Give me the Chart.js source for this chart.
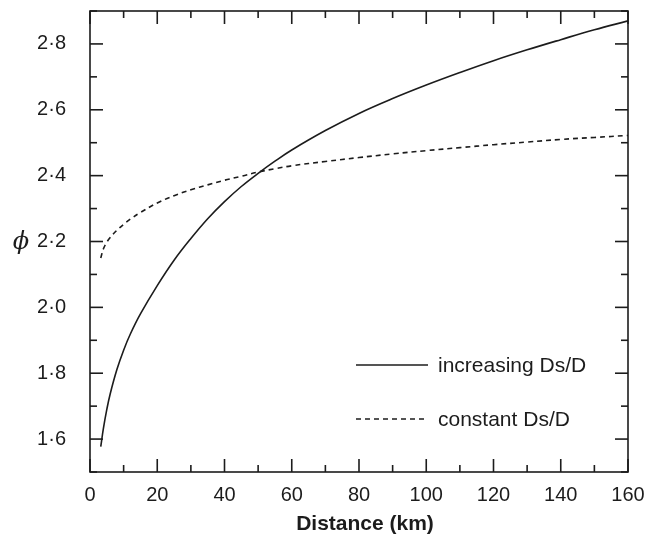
<!DOCTYPE html>
<html>
<head>
<meta charset="utf-8">
<script src="https://cdn.jsdelivr.net/npm/chart.js@4.4.0/dist/chart.umd.min.js"></script>
<style>
  html, body { margin: 0; padding: 0; background: #fff; }
  #wrap { width: 647px; height: 535px; position: relative; }
</style>
</head>
<body>
<div id="wrap"><canvas id="chart"></canvas></div>
<script>
// distance along profile (km) and phi for the two Ds/D cases
const distance = [3.2, 4, 5, 6, 8, 10, 12, 15, 20, 25, 30, 35, 40, 45, 50, 55, 60, 70, 80, 90, 100, 110, 120, 130, 140, 150, 160];
const phiIncreasing = [1.577, 1.633, 1.690, 1.737, 1.811, 1.870, 1.919, 1.980, 2.066, 2.143, 2.209, 2.269, 2.321, 2.367, 2.407, 2.444, 2.478, 2.537, 2.589, 2.634, 2.675, 2.713, 2.749, 2.782, 2.813, 2.843, 2.870];
const phiConstant = [2.150, 2.178, 2.198, 2.212, 2.234, 2.252, 2.268, 2.288, 2.317, 2.339, 2.357, 2.372, 2.386, 2.398, 2.411, 2.421, 2.430, 2.443, 2.455, 2.466, 2.476, 2.485, 2.494, 2.502, 2.510, 2.516, 2.522];

const xTicks = [0, 20, 40, 60, 80, 100, 120, 140, 160];
const yTicks = [1.6, 1.8, 2.0, 2.2, 2.4, 2.6, 2.8];
const seriesLabels = ['increasing Ds/D', 'constant Ds/D'];

const INK = '#1c1c1c';
const FONT = '"Liberation Sans", Arial, Helvetica, sans-serif';

const toPoints = ys => distance.map((d, i) => ({ x: d, y: ys[i] }));

// box frame with inward major/minor ticks on all four sides, legend and axis text
const frameTicks = {
  id: 'frameTicks',
  afterDatasetsDraw(chart) {
    const { ctx, chartArea: a, scales: { x, y } } = chart;
    const seg = (x1, y1, x2, y2) => { ctx.beginPath(); ctx.moveTo(x1, y1); ctx.lineTo(x2, y2); ctx.stroke(); };
    ctx.save();
    ctx.strokeStyle = INK;
    ctx.lineWidth = 1.6;
    ctx.strokeRect(a.left, a.top, a.right - a.left, a.bottom - a.top);

    for (let v = 0; v <= 160; v += 10) {
      const px = x.getPixelForValue(v);
      const len = v % 20 === 0 ? 13 : 7;
      seg(px, a.bottom, px, a.bottom - len);
      seg(px, a.top, px, a.top + len);
    }
    for (let i = 15; i <= 29; i++) {
      const py = y.getPixelForValue(i / 10);
      const len = i % 2 === 0 ? 13 : 7;
      seg(a.left, py, a.left + len, py);
      seg(a.right, py, a.right - len, py);
    }

    // legend
    const ds = chart.data.datasets;
    const rows = [a.top + 354, a.top + 408];
    ctx.fillStyle = INK;
    ctx.font = '21px ' + FONT;
    ctx.textBaseline = 'middle';
    ds.forEach((d, i) => {
      ctx.lineWidth = d.borderWidth;
      ctx.setLineDash(d.borderDash || []);
      seg(a.left + 266, rows[i], a.left + 338, rows[i]);
      ctx.setLineDash([]);
      ctx.fillText(d.label, a.left + 348, rows[i] + 1);
    });

    // axis titles
    ctx.textAlign = 'center';
    ctx.font = 'bold 21px ' + FONT;
    ctx.fillText('Distance (km)', (a.left + a.right) / 2 + 6, 524);
    ctx.font = 'italic 24px "DejaVu Serif", serif';
    ctx.fillText('\u03D5', 21, (a.top + a.bottom) / 2 + 1);
    ctx.restore();
  }
};

new Chart(document.getElementById('chart'), {
  type: 'line',
  data: {
    datasets: [
      { label: seriesLabels[0], data: toPoints(phiIncreasing), borderColor: INK, borderWidth: 1.6, pointRadius: 0, tension: 0.4, fill: false },
      { label: seriesLabels[1], data: toPoints(phiConstant), borderColor: INK, borderWidth: 1.6, borderDash: [5, 4], pointRadius: 0, tension: 0.4, fill: false }
    ]
  },
  options: {
    responsive: true,
    maintainAspectRatio: false,
    animation: false,
    layout: { padding: { top: 11, right: 19, left: 0, bottom: 0 } },
    plugins: { legend: { display: false }, tooltip: { enabled: false } },
    scales: {
      x: {
        type: 'linear', min: 0, max: 160,
        grid: { display: false }, border: { display: false },
        afterBuildTicks: s => { s.ticks = xTicks.map(v => ({ value: v })); },
        afterFit: s => { s.height = 63; s.paddingLeft = 0; s.paddingRight = 0; },
        ticks: { color: INK, font: { family: FONT, size: 20 }, padding: 3, maxRotation: 0 }
      },
      y: {
        type: 'linear', min: 1.5, max: 2.9,
        grid: { display: false }, border: { display: false },
        afterBuildTicks: s => { s.ticks = yTicks.map(v => ({ value: v })); },
        afterFit: s => { s.width = 90; s.paddingTop = 0; s.paddingBottom = 0; },
        ticks: { color: INK, font: { family: FONT, size: 20 }, padding: 16,
          callback: v => v.toFixed(1).replace('.', '\u00B7') }
      }
    }
  },
  plugins: [frameTicks]
});
</script>
</body>
</html>
